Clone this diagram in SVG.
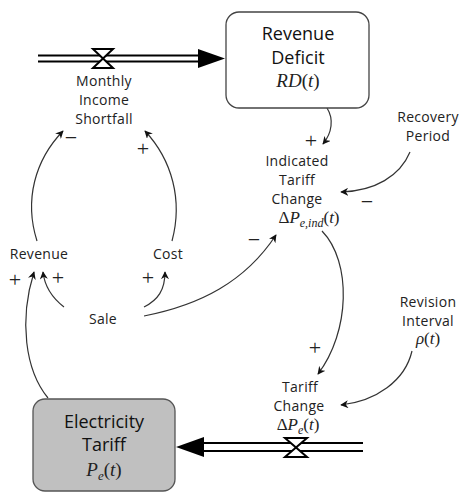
<svg xmlns="http://www.w3.org/2000/svg" width="461" height="493" viewBox="0 0 461 493">
<defs>
<style>
.lbl{font-family:"Open Sans","Liberation Sans",sans-serif;font-size:14px;letter-spacing:0.3px;fill:#222;text-anchor:middle}
.big{font-family:"Open Sans","Liberation Sans",sans-serif;font-size:18px;fill:#111;text-anchor:middle}
.m{font-family:"Liberation Serif",serif;font-style:italic;fill:#222;text-anchor:middle}
.up{font-style:normal}
.sg{font-family:"Liberation Serif",serif;font-size:22px;fill:#222;text-anchor:middle}
.link{fill:none;stroke:#333;stroke-width:1.2;marker-end:url(#ah)}
.pipe{stroke:#000;stroke-width:2}
.valve{fill:#fff;stroke:#000;stroke-width:2;stroke-linejoin:miter}
</style>
<marker id="ah" viewBox="0 0 10 10" refX="9" refY="5" markerWidth="8" markerHeight="8" markerUnits="userSpaceOnUse" orient="auto">
<path d="M0,0 L10,5 L0,10 L3,5 Z" fill="#111"/>
</marker>
</defs>
<rect width="461" height="493" fill="#fff"/>
<g id="connectors">
<path class="link" d="M327,108 C334,119 332,133 323,144"/>
<path class="link" d="M410,152 C400,176 375,191 341,192"/>
<path class="link" d="M144,316 C200,305 245,282 276,235"/>
<path class="link" d="M322,231 C352,262 350,332 318,374"/>
<path class="link" d="M412,351 C405,381 376,401 341,405"/>
<path class="link" d="M64,307 C55,300 45,290 43,272"/>
<path class="link" d="M144,307 C158,300 165,290 165,272"/>
<path class="link" d="M48,398 C25,370 19,320 34,272"/>
<path class="link" d="M37,241 C24,200 35,160 63,131"/>
<path class="link" d="M172,241 C183,200 172,160 145,131"/>
<g id="signs">
<text class="sg" x="311" y="148">+</text>
<text class="sg" x="367" y="209">−</text>
<text class="sg" x="254" y="247">−</text>
<text class="sg" x="315" y="355">+</text>
<text class="sg" x="71" y="145">−</text>
<text class="sg" x="143" y="156">+</text>
<text class="sg" x="15" y="287">+</text>
<text class="sg" x="58" y="285">+</text>
<text class="sg" x="148" y="285">+</text>
</g>
</g>
<g id="flow-monthly-income-shortfall">
<line class="pipe" x1="38" y1="55.5" x2="200" y2="55.5"/>
<line class="pipe" x1="38" y1="61.5" x2="200" y2="61.5"/>
<polygon points="198,49 225,58.5 198,68" fill="#000"/>
<path class="valve" d="M93,49 L113,49 L93,68 L113,68 Z"/>
<text class="lbl" x="104" y="86">Monthly</text>
<text class="lbl" x="104" y="105">Income</text>
<text class="lbl" x="104" y="124">Shortfall</text>
</g>
<g id="revenue-deficit">
<rect x="226" y="12" width="143" height="96" rx="13" fill="#fff" stroke="#444" stroke-width="1.3"/>
<text class="big" x="298" y="40">Revenue</text>
<text class="big" x="298" y="64">Deficit</text>
<text class="m" x="298" y="87" font-size="19">RD<tspan class="up">(</tspan>t<tspan class="up">)</tspan></text>
</g>
<g id="recovery-period">
<text class="lbl" x="428" y="122">Recovery</text>
<text class="lbl" x="428" y="141">Period</text>
</g>
<g id="indicated-tariff-change">
<text class="lbl" x="297" y="166">Indicated</text>
<text class="lbl" x="297" y="185">Tariff</text>
<text class="lbl" x="297" y="204">Change</text>
<text class="m" x="309" y="223" font-size="17"><tspan class="up">Δ</tspan>P<tspan font-size="12" dy="4">e,ind</tspan><tspan class="up" dy="-4">(</tspan>t<tspan class="up">)</tspan></text>
</g>
<g id="revenue">
<text class="lbl" x="39" y="259">Revenue</text>
</g>
<g id="cost">
<text class="lbl" x="168" y="259">Cost</text>
</g>
<g id="sale">
<text class="lbl" x="103" y="324">Sale</text>
</g>
<g id="revision-interval">
<text class="lbl" x="428" y="307">Revision</text>
<text class="lbl" x="428" y="326">Interval</text>
<text class="m" x="428" y="344" font-size="17">ρ<tspan class="up">(</tspan>t<tspan class="up">)</tspan></text>
</g>
<g id="flow-tariff-change">
<line class="pipe" x1="203" y1="443" x2="363" y2="443"/>
<line class="pipe" x1="203" y1="451" x2="363" y2="451"/>
<polygon points="176,447 204,437 204,457" fill="#000"/>
<path class="valve" d="M285,438 L307,438 L285,457 L307,457 Z"/>
<text class="lbl" x="300" y="392">Tariff</text>
<text class="lbl" x="299" y="411">Change</text>
<text class="m" x="298" y="430" font-size="17"><tspan class="up">Δ</tspan>P<tspan font-size="12" dy="4">e</tspan><tspan class="up" dy="-4">(</tspan>t<tspan class="up">)</tspan></text>
</g>
<g id="electricity-tariff">
<rect x="33" y="399" width="142" height="92" rx="12" fill="#c0c0c0" stroke="#555" stroke-width="1.3"/>
<text class="big" x="104" y="428">Electricity</text>
<text class="big" x="104" y="451">Tariff</text>
<text class="m" x="104" y="476" font-size="19">P<tspan font-size="13" dy="4">e</tspan><tspan class="up" dy="-4">(</tspan>t<tspan class="up">)</tspan></text>
</g>
</svg>
